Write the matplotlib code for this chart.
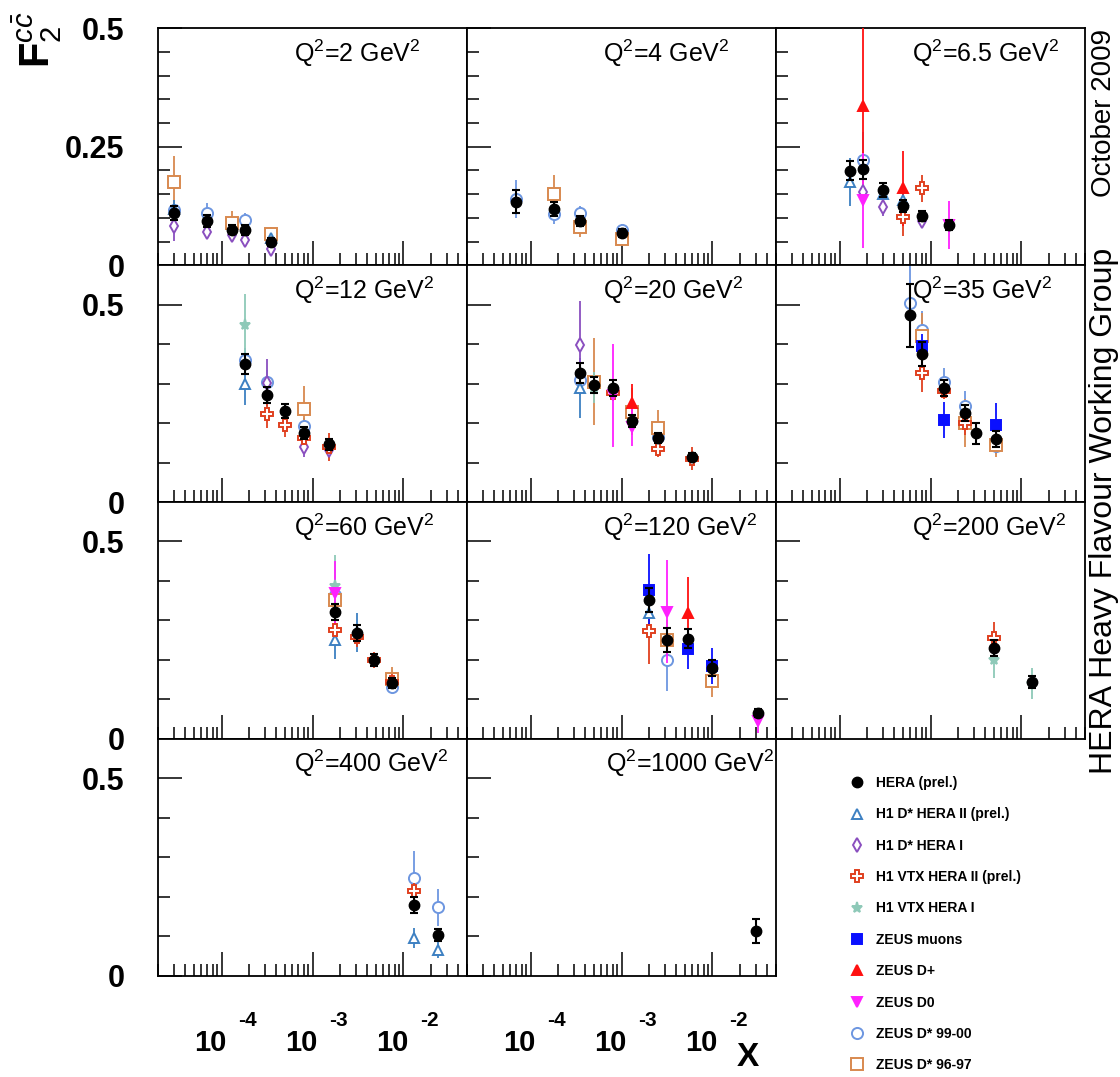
import matplotlib
matplotlib.use("Agg")
import matplotlib.pyplot as plt
import matplotlib.transforms as mtrans
from matplotlib.lines import Line2D
from matplotlib.ticker import FixedLocator, LogLocator, NullFormatter

plt.rcParams["font.family"] = ["Liberation Sans", "DejaVu Sans"]
plt.rcParams["mathtext.fontset"] = "custom"
plt.rcParams["mathtext.rm"] = "Liberation Sans"
plt.rcParams["mathtext.it"] = "Liberation Sans:italic"
plt.rcParams["mathtext.bf"] = "Liberation Sans:bold"

# ---------------------------------------------------------------- data
q2_bins = [2, 4, 6.5, 12, 20, 35, 60, 120, 200, 400, 1000]

# HERA combined (prel.)
hera_q2 = [2, 2, 2, 2, 2, 4, 4, 4, 4, 6.5, 6.5, 6.5, 6.5, 6.5, 6.5,
           12, 12, 12, 12, 12, 20, 20, 20, 20, 20, 20, 35, 35, 35, 35, 35, 35,
           60, 60, 60, 60, 120, 120, 120, 120, 120, 200, 200, 400, 400, 1000]
hera_x = [3.0e-5, 7.0e-5, 1.3e-4, 1.8e-4, 3.5e-4,
          7.0e-5, 1.8e-4, 3.5e-4, 1.0e-3,
          1.3e-4, 1.8e-4, 3.0e-4, 5.0e-4, 8.0e-4, 1.6e-3,
          1.8e-4, 3.2e-4, 5.0e-4, 8.0e-4, 1.5e-3,
          3.5e-4, 5.0e-4, 8.0e-4, 1.3e-3, 2.5e-3, 6.0e-3,
          6.0e-4, 8.0e-4, 1.4e-3, 2.4e-3, 3.2e-3, 5.3e-3,
          1.75e-3, 3.1e-3, 4.7e-3, 7.4e-3,
          2.0e-3, 3.2e-3, 5.4e-3, 1.0e-2, 3.2e-2,
          5.0e-3, 1.3e-2,
          1.3e-2, 2.4e-2,
          3.0e-2]
hera_f2 = [0.111, 0.093, 0.075, 0.074, 0.049,
           0.134, 0.118, 0.093, 0.068,
           0.199, 0.203, 0.159, 0.125, 0.104, 0.085,
           0.349, 0.271, 0.231, 0.174, 0.146,
           0.326, 0.296, 0.288, 0.205, 0.163, 0.113,
           0.473, 0.375, 0.288, 0.226, 0.174, 0.159,
           0.322, 0.268, 0.200, 0.141,
           0.352, 0.251, 0.254, 0.179, 0.066,
           0.230, 0.143,
           0.179, 0.103,
           0.113]
hera_err = [0.015, 0.012, 0.010, 0.010, 0.008,
            0.024, 0.015, 0.010, 0.008,
            0.020, 0.020, 0.015, 0.012, 0.010, 0.010,
            0.025, 0.020, 0.017, 0.015, 0.013,
            0.025, 0.020, 0.020, 0.015, 0.013, 0.010,
            0.080, 0.030, 0.020, 0.020, 0.027, 0.020,
            0.020, 0.020, 0.015, 0.012,
            0.030, 0.030, 0.025, 0.020, 0.010,
            0.020, 0.015,
            0.020, 0.015,
            0.030]

# H1 D* HERA II (prel.)
h1dst2_q2 = [2, 2, 6.5, 6.5, 6.5, 12, 20, 60, 60, 120, 400, 400]
h1dst2_x = [3.0e-5, 3.5e-4, 1.3e-4, 3.0e-4, 5.0e-4, 1.8e-4, 3.5e-4,
            1.75e-3, 3.1e-3, 2.0e-3, 1.3e-2, 2.4e-2]
h1dst2_f2 = [0.118, 0.058, 0.176, 0.151, 0.137, 0.300, 0.288,
             0.251, 0.270, 0.318, 0.095, 0.065]
h1dst2_err = [0.020, 0.010, 0.050, 0.020, 0.020, 0.055, 0.076,
              0.050, 0.050, 0.050, 0.025, 0.020]

# H1 D* HERA I
h1dst1_q2 = [2, 2, 2, 2, 2, 6.5, 6.5, 6.5, 12, 12, 12, 20]
h1dst1_x = [3.0e-5, 7.0e-5, 1.3e-4, 1.8e-4, 3.5e-4, 1.8e-4, 3.0e-4, 8.0e-4,
            3.2e-4, 8.0e-4, 1.5e-3, 3.5e-4]
h1dst1_f2 = [0.082, 0.070, 0.063, 0.053, 0.035, 0.155, 0.123, 0.093,
             0.302, 0.139, 0.132, 0.399]
h1dst1_err = [0.030, 0.015, 0.010, 0.012, 0.010, 0.030, 0.020, 0.015,
              0.060, 0.025, 0.020, 0.110]

# H1 VTX HERA II (prel.)
h1vtx2_q2 = [6.5, 6.5, 12, 12, 12, 12, 20, 20, 20, 35, 35, 35,
             60, 60, 60, 60, 120, 200, 400]
h1vtx2_x = [5.0e-4, 8.0e-4, 3.2e-4, 5.0e-4, 8.0e-4, 1.5e-3,
            8.0e-4, 2.5e-3, 6.0e-3, 8.0e-4, 1.4e-3, 2.4e-3,
            1.75e-3, 3.1e-3, 4.7e-3, 7.4e-3, 2.0e-3, 5.0e-3, 1.3e-2]
h1vtx2_f2 = [0.101, 0.162, 0.223, 0.194, 0.162, 0.140,
             0.275, 0.134, 0.110, 0.326, 0.280, 0.200,
             0.275, 0.258, 0.200, 0.145, 0.274, 0.256, 0.215]
h1vtx2_err = [0.040, 0.028, 0.035, 0.030, 0.020, 0.035,
              0.020, 0.020, 0.030, 0.047, 0.020, 0.030,
              0.040, 0.025, 0.020, 0.020, 0.085, 0.040, 0.020]

# H1 VTX HERA I
h1vtx1_q2 = [12, 20, 60, 200, 200]
h1vtx1_x = [1.8e-4, 5.0e-4, 1.75e-3, 5.0e-3, 1.3e-2]
h1vtx1_f2 = [0.448, 0.290, 0.386, 0.200, 0.140]
h1vtx1_err = [0.080, 0.040, 0.080, 0.045, 0.040]

# ZEUS muons
zmu_q2 = [35, 35, 35, 120, 120, 120]
zmu_x = [8.0e-4, 1.4e-3, 5.3e-3, 2.0e-3, 5.4e-3, 1.0e-2]
zmu_f2 = [0.395, 0.208, 0.195, 0.378, 0.228, 0.185]
zmu_err = [0.030, 0.045, 0.056, 0.090, 0.050, 0.045]

# ZEUS D+
zdp_q2 = [6.5, 6.5, 20, 120]
zdp_x = [1.8e-4, 5.0e-4, 1.3e-3, 5.4e-3]
zdp_f2 = [0.336, 0.162, 0.250, 0.318]
zdp_err = [0.190, 0.080, 0.050, 0.092]

# ZEUS D0
zd0_q2 = [6.5, 6.5, 20, 20, 60, 120, 120]
zd0_x = [1.8e-4, 1.6e-3, 8.0e-4, 1.3e-3, 1.75e-3, 3.2e-3, 3.2e-2]
zd0_f2 = [0.137, 0.085, 0.270, 0.191, 0.370, 0.322, 0.044]
zd0_err = [0.100, 0.050, 0.130, 0.050, 0.080, 0.130, 0.030]

# ZEUS D* 99-00
zd99_q2 = [2, 2, 2, 4, 4, 4, 4, 6.5, 12, 12, 12, 20, 20,
           35, 35, 35, 35, 35, 60, 60, 120, 400, 400]
zd99_x = [3.0e-5, 7.0e-5, 1.8e-4, 7.0e-5, 1.8e-4, 3.5e-4, 1.0e-3, 1.8e-4,
          1.8e-4, 3.2e-4, 8.0e-4, 3.5e-4, 2.5e-3,
          6.0e-4, 8.0e-4, 1.4e-3, 2.4e-3, 5.3e-3, 1.75e-3, 7.4e-3,
          3.2e-3, 1.3e-2, 2.4e-2]
zd99_f2 = [0.116, 0.111, 0.095, 0.140, 0.108, 0.110, 0.075, 0.222,
           0.361, 0.305, 0.193, 0.310, 0.165,
           0.503, 0.435, 0.305, 0.242, 0.141, 0.365, 0.130,
           0.200, 0.248, 0.173]
zd99_err = [0.020, 0.020, 0.015, 0.040, 0.020, 0.015, 0.012, 0.060,
            0.030, 0.030, 0.020, 0.040, 0.020,
            0.100, 0.050, 0.035, 0.040, 0.020, 0.040, 0.015,
            0.080, 0.068, 0.047]

# ZEUS D* 96-97
zd96_q2 = [2, 2, 2, 4, 4, 4, 12, 20, 20, 20, 35, 35, 35, 60, 60, 120, 120]
zd96_x = [3.0e-5, 1.3e-4, 3.5e-4, 1.8e-4, 3.5e-4, 1.0e-3, 8.0e-4,
          5.0e-4, 1.3e-3, 2.5e-3, 8.0e-4, 2.4e-3, 5.3e-3,
          1.75e-3, 7.4e-3, 3.2e-3, 1.0e-2]
zd96_f2 = [0.176, 0.089, 0.065, 0.151, 0.080, 0.056, 0.235,
           0.305, 0.229, 0.187, 0.420, 0.200, 0.145,
           0.352, 0.151, 0.250, 0.147]
zd96_err = [0.055, 0.025, 0.015, 0.040, 0.020, 0.015, 0.060,
            0.110, 0.060, 0.046, 0.060, 0.060, 0.030,
            0.050, 0.030, 0.050, 0.040]

# ---------------------------------------------------------------- styles
# (label, q2, x, f2, err, marker, colour, filled, size, zorder)
series = [
    ("H1 D* HERA II (prel.)", h1dst2_q2, h1dst2_x, h1dst2_f2, h1dst2_err, "^", "#3d80c2", False, 7.5, 3),
    ("H1 D* HERA I", h1dst1_q2, h1dst1_x, h1dst1_f2, h1dst1_err, "d", "#8a4fbf", False, 7, 3),
    ("H1 VTX HERA II (prel.)", h1vtx2_q2, h1vtx2_x, h1vtx2_f2, h1vtx2_err, "P", "#e0401f", False, 8.5, 3),
    ("H1 VTX HERA I", h1vtx1_q2, h1vtx1_x, h1vtx1_f2, h1vtx1_err, "*", "#8ec9b8", True, 8, 3),
    ("ZEUS muons", zmu_q2, zmu_x, zmu_f2, zmu_err, "s", "#0a10ff", True, 7, 3),
    ("ZEUS D+", zdp_q2, zdp_x, zdp_f2, zdp_err, "^", "#ff1010", True, 7.5, 3),
    ("ZEUS D0", zd0_q2, zd0_x, zd0_f2, zd0_err, "v", "#ff20ff", True, 7.5, 3),
    ("ZEUS D* 99-00", zd99_q2, zd99_x, zd99_f2, zd99_err, "o", "#6d96e0", False, 8, 2),
    ("ZEUS D* 96-97", zd96_q2, zd96_x, zd96_f2, zd96_err, "s", "#d8894f", False, 8, 2),
]

# ---------------------------------------------------------------- layout
W, H = 1120, 1077
fig = plt.figure(figsize=(W / 100, H / 100), dpi=100)

LEFT, TOP = 158.0, 28.4          # pixel position of the top-left panel corner
CW, RH = 309.0, 236.8            # panel width / height in pixels
XMIN, XMAX = 2e-5, 0.05

LABEL_FONT = dict(fontsize=22, fontweight="bold")


def panel_axes(row, col):
    x0 = LEFT + col * CW
    y1 = TOP + (row + 1) * RH
    return fig.add_axes([x0 / W, 1 - y1 / H, CW / W, RH / H])


axes = []
for i, q2 in enumerate(q2_bins):
    row, col = divmod(i, 3)
    ax = panel_axes(row, col)
    axes.append(ax)
    ax.set_xscale("log")
    ax.set_xlim(XMIN, XMAX)

    if row == 0:
        ax.set_ylim(0, 0.5)
        ax.yaxis.set_major_locator(FixedLocator([0, 0.25, 0.5]))
        ax.yaxis.set_minor_locator(FixedLocator([0.05, 0.1, 0.15, 0.2, 0.3, 0.35, 0.4, 0.45]))
        ylabels = ["0", "0.25", "0.5"]
    else:
        ax.set_ylim(0, 0.6)
        ax.yaxis.set_major_locator(FixedLocator([0, 0.5]))
        ax.yaxis.set_minor_locator(FixedLocator([0.1, 0.2, 0.3, 0.4]))
        ylabels = ["0", "0.5"]
    if col == 0:
        ax.set_yticklabels(ylabels, **LABEL_FONT)
    else:
        ax.set_yticklabels([])

    ax.xaxis.set_major_locator(FixedLocator([1e-4, 1e-3, 1e-2]))
    ax.xaxis.set_minor_locator(LogLocator(base=10, subs=range(2, 10), numticks=20))
    ax.xaxis.set_major_formatter(NullFormatter())
    ax.xaxis.set_minor_formatter(NullFormatter())

    ax.tick_params(which="both", direction="in", top=False, right=False,
                   width=1.1, colors="black", labelbottom=False)
    ax.tick_params(which="major", length=17.5)
    ax.tick_params(which="minor", length=8.5)
    ax.tick_params(axis="y", which="major", pad=24)
    for s in ax.spines.values():
        s.set_linewidth(1.3)

    # data points of this Q2 bin
    for (lab, sq2, sx, sf2, serr, mk, colr, filled, ms, zo) in series:
        px = [x for q, x in zip(sq2, sx) if q == q2]
        py = [f for q, f in zip(sq2, sf2) if q == q2]
        pe = [e for q, e in zip(sq2, serr) if q == q2]
        if not px:
            continue
        ax.errorbar(px, py, yerr=pe, fmt=mk, color=colr, ms=ms,
                    mfc=colr if filled else "white", mec=colr, mew=1.4,
                    elinewidth=1.3, capsize=0, zorder=zo)
    hx = [x for q, x in zip(hera_q2, hera_x) if q == q2]
    hy = [f for q, f in zip(hera_q2, hera_f2) if q == q2]
    he = [e for q, e in zip(hera_q2, hera_err) if q == q2]
    ax.errorbar(hx, hy, yerr=he, fmt="o", color="black", ms=7.5, mfc="black",
                elinewidth=1.5, capsize=3, capthick=1.5, zorder=5)

    # Q2 label
    qtxt = r"Q$^{2}$=%s GeV$^{2}$" % (f"{q2:g}")
    if len(f"{q2:g}") > 3:
        ax.text(0.995, 0.895, qtxt, transform=ax.transAxes, ha="right",
                va="center", fontsize=18)
    else:
        ax.text(0.44, 0.895, qtxt, transform=ax.transAxes, ha="left",
                va="center", fontsize=18)

    # decade labels under the bottom row
    if row == 3:
        base = ax.get_xaxis_transform()
        for dec in (-4, -3, -2):
            t10 = mtrans.offset_copy(base, fig=fig, x=5, y=-67, units="dots")
            ax.text(10.0 ** dec, 0, "10", transform=t10, ha="right",
                    va="center", fontsize=21, fontweight="bold")
            tex = mtrans.offset_copy(base, fig=fig, x=17, y=-45, units="dots")
            ax.text(10.0 ** dec, 0, f"-{-dec}", transform=tex, ha="left",
                    va="center", fontsize=15, fontweight="bold")

# axis titles
fig.text(748 / W, 1 - 1058 / H, "X", ha="center", va="center",
         fontsize=24, fontweight="bold")
fig.text(37 / W, 1 - 40 / H, r"$\mathbf{F}_{2}^{c\bar{c}}$", rotation=90,
         ha="center", va="center", fontsize=30)

# side annotations
fig.text(1104 / W, 1 - 113 / H, "October 2009", rotation=90,
         ha="center", va="center", fontsize=20)
fig.text(1104 / W, 1 - 511 / H, "HERA Heavy Flavour Working Group",
         rotation=90, ha="center", va="center", fontsize=23)

# legend in the free bottom-right slot
handles = [Line2D([], [], ls="none", marker="o", color="black", ms=7.5)]
labels = ["HERA (prel.)"]
for (lab, sq2, sx, sf2, serr, mk, colr, filled, ms, zo) in series:
    handles.append(Line2D([], [], ls="none", marker=mk, color=colr, ms=ms,
                          mfc=colr if filled else "white", mec=colr, mew=1.4))
    labels.append(lab)
fig.legend(handles, labels, loc="upper left",
           bbox_to_anchor=(848 / W, 1 - 776 / H), frameon=False,
           prop=dict(size=10, weight="bold"), handlelength=1.3,
           handletextpad=0.7, labelspacing=1.25, borderaxespad=0,
           borderpad=0)

fig.savefig("out.png", dpi=100)
